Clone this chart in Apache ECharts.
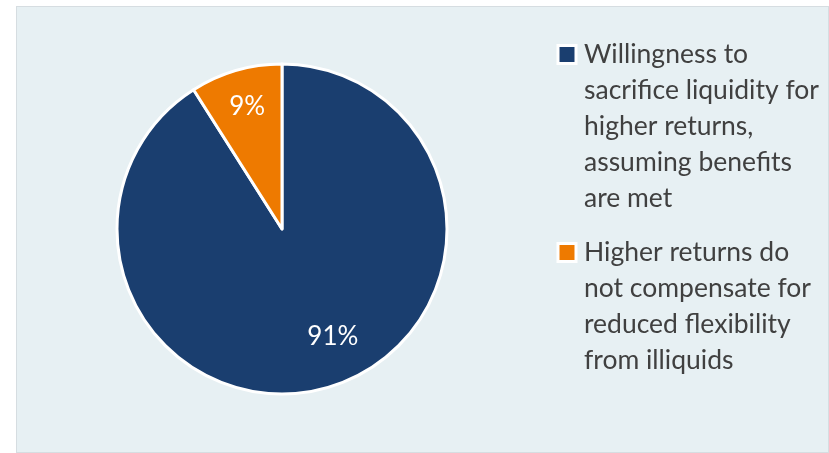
<!DOCTYPE html>
<html>
<head>
<meta charset="utf-8">
<script src="https://cdn.jsdelivr.net/npm/echarts@6/dist/echarts.min.js"></script>
<style>
  html, body { margin: 0; padding: 0; background: #ffffff; }
  #panel {
    position: absolute; left: 16px; top: 6px; width: 813px; height: 447px;
    box-sizing: border-box; background: #E7F0F3; border: 1px solid #D6DDE1;
  }
  #chart { position: absolute; left: 0; top: 0; width: 829px; height: 453px; }
</style>
</head>
<body>
<div id="panel"></div>
<div id="chart"></div>
<script>
// Survey split: share of respondents per answer
const categories = [
  'Willingness to sacrifice liquidity for higher returns, assuming benefits are met',
  'Higher returns do not compensate for reduced flexibility from illiquids'
];
const values = [91, 9];
const colors = ['#1A3E6F', '#EE7A00'];
// Legend text broken into lines as laid out beside the pie
const legendLines = [
  ['Willingness to', 'sacrifice liquidity for', 'higher returns,', 'assuming benefits', 'are met'],
  ['Higher returns do', 'not compensate for', 'reduced flexibility', 'from illiquids']
];
// Nudges that move the percentage labels off the slice mid-radius
const labelNudge = [[27, 26], [-11, -40]];

const FONT = 'Lato, "Open Sans", sans-serif';
const chart = echarts.init(document.getElementById('chart'), null, { renderer: 'canvas' });

const LH = 36;
const rich = {
  t: { fontFamily: FONT, fontSize: 26.5, color: '#404040', lineHeight: LH },
  g: { width: 9.5, height: 12, lineHeight: LH },   // gap after the swatch
  s: { width: 24.5, height: 12, lineHeight: LH }   // hanging indent
};
colors.forEach((c, i) => {
  rich['m' + i] = {
    width: 15, height: 15, backgroundColor: c,
    borderColor: '#ffffff', borderWidth: 3, lineHeight: LH
  };
});

chart.setOption({
  animation: false,
  backgroundColor: 'transparent',
  color: colors,
  legend: {
    orient: 'vertical',
    left: 549.5,
    top: 36,
    itemGap: 27,
    icon: 'none',
    itemWidth: 0,
    itemHeight: 12,
    data: categories,
    formatter: function (name) {
      const i = categories.indexOf(name);
      return legendLines[i].map((line, k) =>
        (k === 0 ? '{m' + i + '|}{g|}' : '{s|}') + '{t|' + line + '}'
      ).join('\n');
    },
    textStyle: { rich: rich, padding: 0 }
  },
  series: [{
    type: 'pie',
    center: [282, 229],
    radius: [0, 165],
    startAngle: 90,
    clockwise: true,
    avoidLabelOverlap: false,
    itemStyle: { borderColor: '#ffffff', borderWidth: 3 },
    label: {
      show: true,
      position: 'inside',
      formatter: '{c}%',
      color: '#ffffff',
      fontFamily: FONT,
      fontSize: 26
    },
    labelLine: { show: false },
    emphasis: { scale: false },
    labelLayout: function (p) {
      const n = labelNudge[p.dataIndex];
      return { dx: n[0], dy: n[1] };
    },
    data: categories.map((name, i) => ({ name: name, value: values[i] }))
  }]
});
</script>
</body>
</html>
